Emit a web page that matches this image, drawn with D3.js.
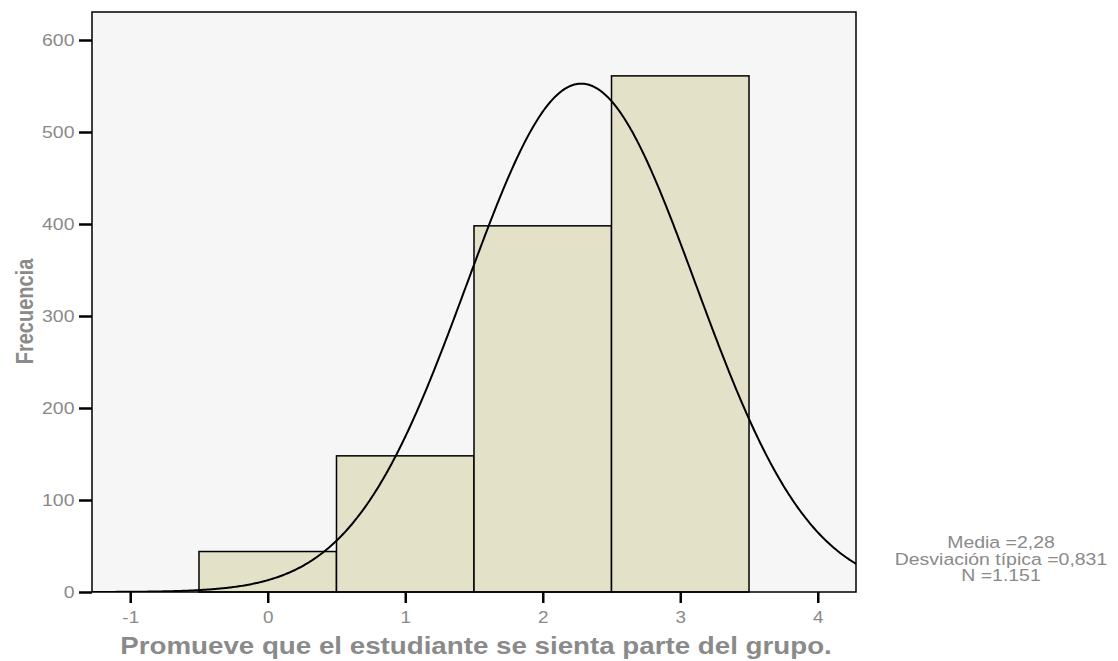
<!DOCTYPE html>
<html><head><meta charset="utf-8">
<script src="https://cdn.jsdelivr.net/npm/d3@7"></script>
<style>body{margin:0;background:#fff;} svg{display:block;font-family:"Liberation Sans",Arial,sans-serif;}</style>
</head><body>
<svg id="c" width="1118" height="661"></svg>
<script>
const binCenters = [0, 1, 2, 3];
const frequencies = [44, 148, 398, 561];
const yTicks = [0, 100, 200, 300, 400, 500, 600];
const xTicks = [-1, 0, 1, 2, 3, 4];
const mean = 2.28, sd = 0.831, n = 1151, binWidth = 1;
const statsLines = ["Media =2,28", "Desviación típica =0,831", "N =1.151"];
const xTitle = "Promueve que el estudiante se sienta parte del grupo.";
const yTitle = "Frecuencia";

const svg = d3.select("#c");
const L = 92, R = 856, T = 12, B = 592;
const SX = 1.18;
const x = d3.scaleLinear().domain([-1.278, 4.278]).range([L, R]);
const y = d3.scaleLinear().domain([0, 600]).range([B, B - 552]);
const grey = "#8a8a8a";
const FF = "Liberation Sans, Arial, sans-serif";

svg.append("rect").attr("x", L).attr("y", T).attr("width", R - L).attr("height", B - T).attr("fill", "#f6f6f6");
svg.append("clipPath").attr("id", "clip").append("rect").attr("x", L).attr("y", T).attr("width", R - L).attr("height", B - T);

svg.selectAll("rect.bar").data(binCenters).join("rect").attr("class", "bar")
  .attr("x", d => x(d - binWidth / 2)).attr("width", d => x(d + binWidth / 2) - x(d - binWidth / 2))
  .attr("y", (d, i) => y(frequencies[i])).attr("height", (d, i) => y(0) - y(frequencies[i]))
  .attr("fill", "#e3e1c8").attr("stroke", "#000").attr("stroke-width", 1.5);

const pts = d3.range(-1.3, 4.31, 0.01).map(v => [v, n * binWidth / (sd * Math.sqrt(2 * Math.PI)) * Math.exp(-0.5 * ((v - mean) / sd) ** 2)]);
svg.append("path").datum(pts).attr("clip-path", "url(#clip)")
  .attr("d", d3.line().x(d => x(d[0])).y(d => y(d[1])))
  .attr("fill", "none").attr("stroke", "#000").attr("stroke-width", 2);

svg.append("rect").attr("x", L).attr("y", T).attr("width", R - L).attr("height", B - T).attr("fill", "none").attr("stroke", "#000").attr("stroke-width", 1.5);

// axes (tick lines via d3 axis, labels placed with horizontal stretch)
const ya = svg.append("g").attr("transform", `translate(${L},0)`)
  .call(d3.axisLeft(y).tickValues(yTicks).tickSize(13).tickFormat(""));
ya.select(".domain").remove();
ya.selectAll("line").attr("stroke", "#000").attr("stroke-width", 2.5);
ya.selectAll(".tick").append("text")
  .attr("transform", `translate(-17.5,0) scale(${SX},1)`).attr("dy", "0.35em")
  .attr("text-anchor", "end").attr("fill", grey).attr("font-size", 16.5).attr("font-family", FF)
  .text(d => d);

const xa = svg.append("g").attr("transform", `translate(0,${B})`)
  .call(d3.axisBottom(x).tickValues(xTicks).tickSize(11).tickFormat(""));
xa.select(".domain").remove();
xa.selectAll("line").attr("stroke", "#000").attr("stroke-width", 2.5);
xa.selectAll(".tick").append("text")
  .attr("transform", `translate(0,31) scale(${SX},1)`)
  .attr("text-anchor", "middle").attr("fill", grey).attr("font-size", 16).attr("font-family", FF)
  .text(d => d < 0 ? "-" + Math.abs(d) : d);

svg.append("text").attr("transform", `translate(476,654) scale(${SX},1)`).attr("text-anchor", "middle")
  .attr("font-size", 23.5).attr("font-weight", "bold").attr("fill", grey).text(xTitle);
svg.append("text").attr("transform", `translate(33,311.5) scale(${SX},1) rotate(-90)`).attr("text-anchor", "middle")
  .attr("font-size", 20).attr("font-weight", "bold").attr("fill", grey).text(yTitle);

svg.append("g").selectAll("text").data(statsLines).join("text")
  .attr("transform", (d, i) => `translate(1001,${548 + i * 16.7}) scale(${SX},1)`).attr("text-anchor", "middle")
  .attr("font-size", 16.5).attr("fill", grey).text(d => d);
</script>
</body></html>
